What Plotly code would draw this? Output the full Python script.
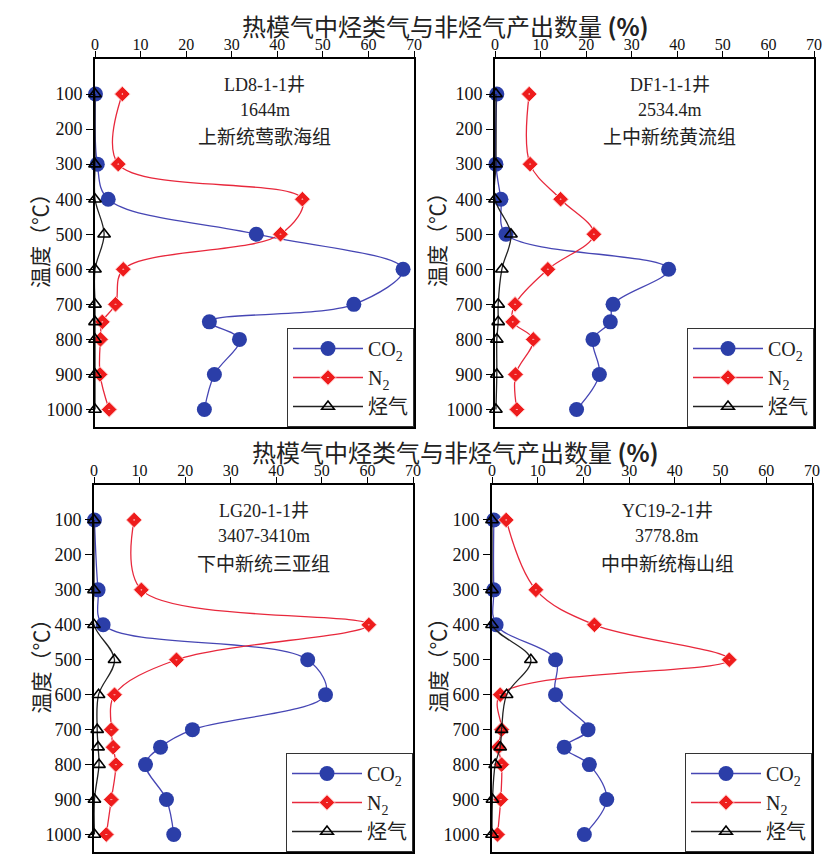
import plotly.graph_objects as go

W, H = 832, 857
OFF = 8  # page body margin offset
FW, FH = W - OFF, H - OFF

temps = [100, 300, 400, 500, 600, 700, 750, 800, 900, 1000]

# Panel 1: LD8-1-1
co2_1 = [0.1, 0.5, 2.9, 35.4, 67.6, 56.8, 25.1, 31.7, 26.2, 24.0]
n2_1 = [6.0, 5.1, 45.5, 40.7, 6.2, 4.5, 1.6, 1.2, 1.1, 3.1]
hc_1 = [0.0, 0.0, 0.0, 2.0, 0.0, 0.0, 0.0, 0.0, 0.0, 0.0]
# Panel 2: DF1-1-1
co2_2 = [0.4, 0.2, 1.3, 2.4, 38.1, 25.9, 25.3, 21.5, 22.9, 17.9]
n2_2 = [7.5, 7.7, 14.4, 21.7, 11.6, 4.4, 3.9, 8.4, 4.5, 4.8]
hc_2 = [0.2, 0.2, 0.0, 3.5, 1.5, 0.7, 0.7, 0.4, 0.4, 0.2]
# Panel 3: LG20-1-1
co2_3 = [0.1, 0.9, 2.0, 46.9, 50.8, 21.6, 14.6, 11.3, 15.9, 17.5]
n2_3 = [8.8, 10.4, 60.3, 18.1, 4.5, 3.8, 4.2, 4.8, 3.8, 2.7]
hc_3 = [0.0, 0.0, 0.0, 4.5, 1.0, 0.7, 0.9, 1.1, 0.1, 0.1]
# Panel 4: YC19-2-1
co2_4 = [0.4, 0.4, 0.9, 13.9, 13.9, 21.0, 15.8, 21.3, 25.1, 20.2]
n2_4 = [3.1, 9.6, 22.4, 51.9, 1.8, 2.1, 1.4, 2.1, 1.9, 1.2]
hc_4 = [0.0, 0.0, 0.0, 8.5, 3.2, 2.1, 1.8, 0.7, 0.1, 0.0]

x_ticks = [0, 10, 20, 30, 40, 50, 60, 70]
y_ticks = [100, 200, 300, 400, 500, 600, 700, 800, 900, 1000]

wells = [
    ["LD8-1-1井", "1644m", "上新统莺歌海组"],
    ["DF1-1-1井", "2534.4m", "上中新统黄流组"],
    ["LG20-1-1井", "3407-3410m", "下中新统三亚组"],
    ["YC19-2-1井", "3778.8m", "中中新统梅山组"],
]
series_names = ["CO<sub>2</sub>", "N<sub>2</sub>", "烃气"]
title_text = "热模气中烃类气与非烃气产出数量 <b>(%)</b>"
ylabel_text = "温度（℃）"

# panel frames in window pixels: (left, right, top, bottom)
frames = [(95, 414, 59, 427), (495, 814, 59, 427),
          (94, 413, 485, 852), (492, 812, 485, 852)]

def px(x):
    return (x - OFF) / FW

def py(y):
    return 1 - (y - OFF) / FH

data = [(co2_1, n2_1, hc_1), (co2_2, n2_2, hc_2),
        (co2_3, n2_3, hc_3), (co2_4, n2_4, hc_4)]

fig = go.Figure()
serif = "Liberation Serif, Noto Sans CJK SC"
cjk = "Noto Sans CJK SC"

for i, (co2, n2, hc) in enumerate(data):
    k = "" if i == 0 else str(i + 1)
    leg = "legend" if i == 0 else "legend" + str(i + 1)
    common = dict(y=temps, mode="lines+markers", line_shape="spline",
                  xaxis="x" + k, yaxis="y" + k, legend=leg, cliponaxis=False)
    fig.add_trace(go.Scatter(x=co2, name=series_names[0],
                             line=dict(color="#4646b4", width=1.3),
                             marker=dict(symbol="circle", size=15, color="#2b3ea8",
                                         line=dict(width=0)), **common))
    fig.add_trace(go.Scatter(x=n2, name=series_names[1],
                             line=dict(color="#e8283c", width=1.3),
                             marker=dict(symbol="diamond-dot", size=12, color="#ee1c1c",
                                         line=dict(width=1, color="#ffd0d0")), **common))
    fig.add_trace(go.Scatter(x=hc, name=series_names[2],
                             line=dict(color="#222222", width=1.3),
                             marker=dict(symbol="triangle-up-open", size=11, color="black",
                                         line=dict(width=1.6, color="black")), **common))

layout = dict(width=FW, height=FH, margin=dict(l=0, r=0, t=0, b=0),
              paper_bgcolor="white", plot_bgcolor="white", showlegend=True)

annotations = []
for i, (l, r, t, b) in enumerate(frames):
    k = "" if i == 0 else str(i + 1)
    layout["xaxis" + k] = dict(domain=[px(l), px(r)], range=[0, 70], side="top",
                               anchor="y" + k, tickvals=x_ticks, ticks="outside",
                               ticklen=6, tickwidth=1.3, tickcolor="black",
                               ticklabelstandoff=-5,
                               showline=True, linecolor="black", linewidth=2,
                               mirror=True, showgrid=False, zeroline=False,
                               automargin=False,
                               tickfont=dict(family=serif, size=16, color="#111"))
    layout["yaxis" + k] = dict(domain=[py(b), py(t)], range=[1050, 0],
                               anchor="x" + k, tickvals=y_ticks, ticks="outside",
                               ticklen=7, tickwidth=1.3, tickcolor="black",
                               showline=True, linecolor="black", linewidth=2,
                               mirror=True, showgrid=False, zeroline=False,
                               automargin=False,
                               tickfont=dict(family=serif, size=18, color="#111"))
    leg = "legend" if i == 0 else "legend" + str(i + 1)
    layout[leg] = dict(x=px(r), y=py(b), xanchor="right", yanchor="bottom",
                       bgcolor="white", bordercolor="#333", borderwidth=1,
                       font=dict(family=serif, size=20, color="#222"),
                       tracegroupgap=0, itemwidth=70)
    # well annotations
    cx = (l + r) / 2 + 10 + (5 if i % 2 else 0)
    ys = [t + 26, t + 51, t + 77]
    for j, txt in enumerate(wells[i]):
        annotations.append(dict(x=px(cx), y=py(ys[j]), xref="paper", yref="paper",
                                text=txt, showarrow=False, xanchor="center",
                                yanchor="middle",
                                font=dict(family=serif if j < 2 else cjk,
                                          size=18 if j < 2 else 19, color="#222")))
    # rotated y label
    lx = 39 if i % 2 == 0 else 436
    annotations.append(dict(x=px(lx), y=py((t + b) / 2 - 8), xref="paper", yref="paper",
                            text=ylabel_text, showarrow=False, textangle=-90,
                            xanchor="center", yanchor="middle",
                            font=dict(family=cjk, size=21, color="#222")))

annotations.append(dict(x=px(240), y=py(25), xref="paper", yref="paper",
                        text=title_text, showarrow=False, xanchor="left", yanchor="middle",
                        font=dict(family=cjk, size=24, color="#222")))
annotations.append(dict(x=px(250), y=py(451), xref="paper", yref="paper",
                        text=title_text, showarrow=False, xanchor="left", yanchor="middle",
                        font=dict(family=cjk, size=24, color="#222")))
layout["annotations"] = annotations
fig.update_layout(**layout)
fig.write_html("out.html")
